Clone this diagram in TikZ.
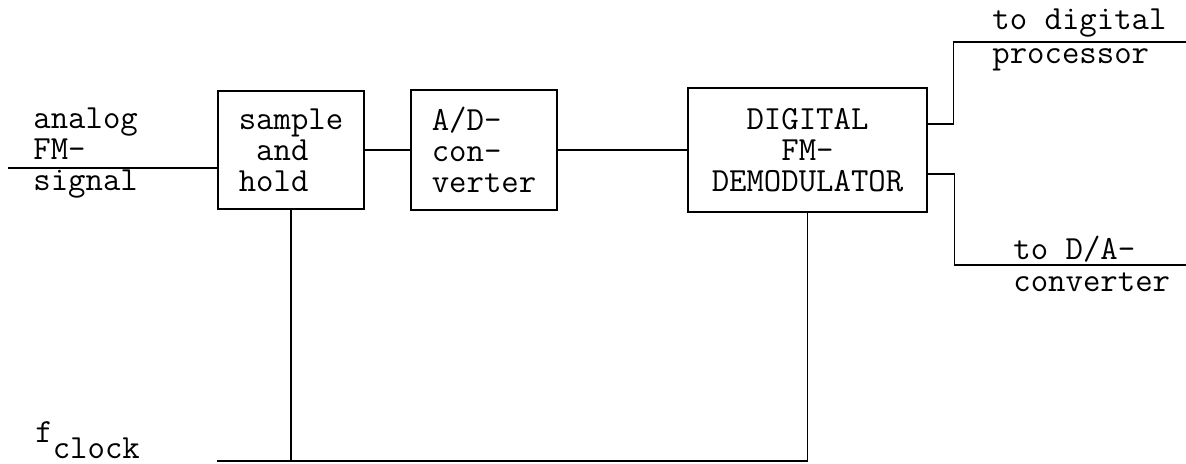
\documentclass[tikz,border=0pt]{standalone}
\usepackage{fontspec}
\usepackage{tikz}
\newcommand{\fmfont}{\fontsize{16.9}{15.5}\selectfont\ttfamily}
\tikzset{
  blk/.style={draw, line width=1.4pt, inner sep=0pt, font=\fmfont},
  wire/.style={line width=0.9pt},
  lbl/.style={align=left, inner sep=0pt, font=\fmfont}
}

\begin{document}
\begin{tikzpicture}[x=0.5pt,y=-0.5pt]
  \useasboundingbox (0,0) rectangle (1186,463);
  \node[blk, align=left, minimum width=73pt, minimum height=59pt] (sh) at (291,150) {sample\\\hphantom{s}and\\hold};
  \node[blk, align=left, minimum width=73pt, minimum height=60pt] (ad) at (484,150) {A/D-\\con-\\verter};
  \node[blk, align=center, minimum width=119.5pt, minimum height=62pt] (dem) at (807.5,150) {DIGITAL\\FM-\\DEMODULATOR};
  \node[lbl, anchor=west] (ain) at (33,153) {analog\\FM-\\signal};
  \node[lbl, anchor=west] (dpl) at (992,40) {to digital\\[1.5pt]processor};
  \node[lbl, anchor=west] (dal) at (1013,264) {to D/A-\\[0.5pt]converter};
  \node[lbl, anchor=base west] (fclk) at (35,442) {f\raisebox{-8pt}{clock}};
  \coordinate (in) at (8,168);
  \coordinate (dp) at (1186,42);
  \coordinate (da) at (1186,265);
  \coordinate (clk) at (217,461);
  \draw[wire] (in) -- (in -| sh.west);
  \draw[wire] (sh.east) -- (ad.west);
  \draw[wire] (ad.east) -- (dem.west);
  \draw[wire] ([yshift=13pt]dem.east) -- ++(25,0) |- (dp);
  \draw[wire] ([yshift=-12pt]dem.east) -- ++(26,0) |- (da);
  \draw[wire] (sh.south) -- (sh.south |- clk);
  \draw[wire] (clk) -| (dem.south);
\end{tikzpicture}
\end{document}
